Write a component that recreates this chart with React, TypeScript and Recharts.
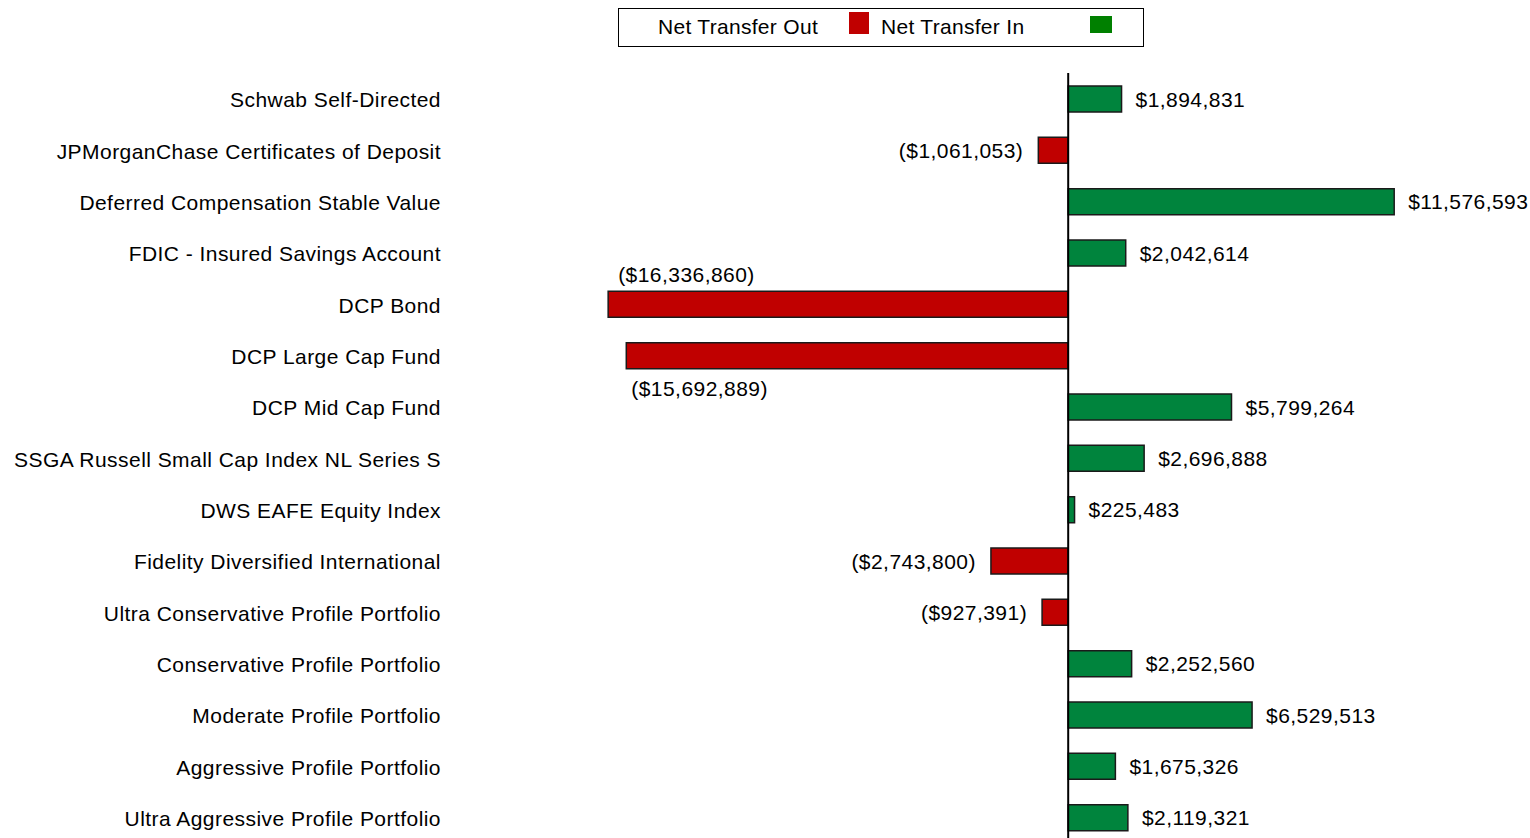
import React from 'react';
import { BarChart, Bar, XAxis, YAxis, Cell, ReferenceLine, LabelList } from 'recharts';

const categories: string[] = [
  'Schwab Self-Directed',
  'JPMorganChase Certificates of Deposit',
  'Deferred Compensation Stable Value',
  'FDIC - Insured Savings Account',
  'DCP Bond',
  'DCP Large Cap Fund',
  'DCP Mid Cap Fund',
  'SSGA Russell Small Cap Index NL Series S',
  'DWS EAFE Equity Index',
  'Fidelity Diversified International',
  'Ultra Conservative Profile Portfolio',
  'Conservative Profile Portfolio',
  'Moderate Profile Portfolio',
  'Aggressive Profile Portfolio',
  'Ultra Aggressive Profile Portfolio',
];

const values: number[] = [
  1894831,
  -1061053,
  11576593,
  2042614,
  -16336860,
  -15692889,
  5799264,
  2696888,
  225483,
  -2743800,
  -927391,
  2252560,
  6529513,
  1675326,
  2119321,
];

const legendLabels: string[] = ['Net Transfer Out', 'Net Transfer In'];

const data = categories.map((name, i) => ({ name, value: values[i] }));

const RED = '#C00000';
const GREEN = '#00843D';
const LEGEND_GREEN = '#008000';
const FONT = '"Liberation Sans", Arial, sans-serif';
const FS = 21;
const LS = 0.45;

const fmt = (v: number) => {
  const s = '$' + Math.abs(v).toLocaleString('en-US');
  return v < 0 ? `(${s})` : s;
};

const CategoryTick = (props: any) => {
  const { y, payload } = props;
  return (
    <text
      x={433}
      y={y + 1}
      textAnchor="end"
      dominantBaseline="central"
      fontFamily={FONT}
      fontSize={FS}
      letterSpacing={LS}
      fill="#000"
    >
      {payload.value}
    </text>
  );
};

const ValueLabel = (props: any) => {
  const { x, y, width, height, value, index } = props;
  const left = Math.min(x, x + width);
  const right = Math.max(x, x + width);
  const top = Math.min(y, y + height);
  const bottom = Math.max(y, y + height);
  const cy = (top + bottom) / 2;
  let tx = right + 14;
  let ty = cy;
  let anchor: 'start' | 'end' = 'start';
  if (value < 0) {
    if (index === 4) {
      tx = left + 10;
      ty = top - 17;
    } else if (index === 5) {
      tx = left + 5;
      ty = bottom + 20;
    } else {
      tx = left - 15;
      anchor = 'end';
    }
  }
  return (
    <text
      x={tx}
      y={ty}
      textAnchor={anchor}
      dominantBaseline="central"
      fontFamily={FONT}
      fontSize={FS}
      letterSpacing={LS}
      fill="#000"
    >
      {fmt(value)}
    </text>
  );
};

const LegendBox = () => (
  <div
    style={{
      position: 'absolute',
      left: 610,
      top: 0,
      width: 524,
      height: 37,
      border: '1.5px solid #000',
      background: '#fff',
      fontFamily: FONT,
      fontSize: FS,
      letterSpacing: 0.3,
      color: '#000',
    }}
  >
    <span style={{ position: 'absolute', left: 39, top: 6, whiteSpace: 'nowrap' }}>{legendLabels[0]}</span>
    <span style={{ position: 'absolute', left: 230, top: 3, width: 20, height: 22, background: RED }} />
    <span style={{ position: 'absolute', left: 262, top: 6, whiteSpace: 'nowrap' }}>{legendLabels[1]}</span>
    <span style={{ position: 'absolute', left: 471, top: 7, width: 22, height: 17, background: LEGEND_GREEN }} />
  </div>
);

export default function App() {
  return (
    <div style={{ position: 'absolute', left: 8, top: 8, width: 1522, height: 830, overflow: 'hidden' }}>
      <BarChart
        width={1522}
        height={850}
        data={data}
        layout="vertical"
        margin={{ top: 65, right: 39.4, bottom: 15, left: 0 }}
        barSize={26}
      >
        <XAxis type="number" hide domain={[-20000000, 15000000]} allowDataOverflow />
        <YAxis
          type="category"
          dataKey="name"
          width={497}
          axisLine={false}
          tickLine={false}
          tick={<CategoryTick />}
          interval={0}
        />
        <Bar dataKey="value" isAnimationActive={false} stroke="#1a1a1a" strokeWidth={1.5}>
          {data.map((d, i) => (
            <Cell key={i} fill={d.value < 0 ? RED : GREEN} />
          ))}
          <LabelList dataKey="value" content={<ValueLabel />} />
        </Bar>
        <ReferenceLine x={0} stroke="#000" strokeWidth={2} />
      </BarChart>
      <LegendBox />
    </div>
  );
}
